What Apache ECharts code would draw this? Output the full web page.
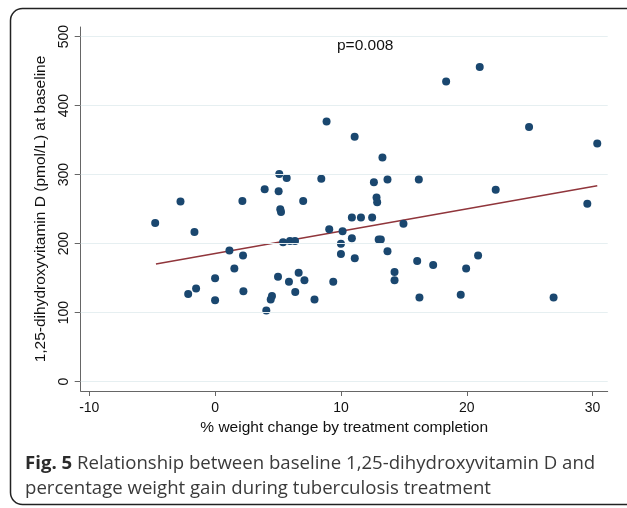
<!DOCTYPE html>
<html>
<head>
<meta charset="utf-8">
<script src="https://cdn.jsdelivr.net/npm/echarts@6/dist/echarts.min.js"></script>
<style>
  html, body { margin: 0; padding: 0; background: #fff; }
  #chart { width: 627px; height: 508px; }
</style>
</head>
<body>
<div id="chart"></div>
<script>
// % weight change by treatment completion
const weightChange = [
  -4.76, -2.75, -2.14, -1.64, -1.51, 0, 0, 1.14, 1.53, 2.17,
  2.22, 2.25, 3.94, 4.07, 4.42, 4.52, 5.0, 5.05, 5.1, 5.18,
  5.24, 5.4, 5.69, 5.87, 5.95, 6.35, 6.37, 6.64, 7.0, 7.1,
  7.9, 8.44, 8.86, 9.07, 9.39, 10.0, 10.0, 10.13, 10.87, 10.87,
  11.09, 11.1, 11.59, 12.48, 12.62, 12.83, 12.88, 13.0, 13.17, 13.3,
  13.7, 13.7, 14.26, 14.26, 14.97, 16.06, 16.19, 16.24, 17.33, 18.36,
  19.52, 19.95, 20.9, 21.03, 22.3, 24.95, 26.9, 29.58, 30.37
];
// baseline 1,25-dihydroxyvitamin D (pmol/L)
const vitaminD = [
  230, 261, 127, 217, 135, 150, 118, 190, 164, 262,
  183, 131, 279, 103, 119, 124, 152, 276, 301, 250,
  246, 202, 295, 145, 204, 204, 130, 158, 262, 147,
  119, 294, 377, 221, 145, 200, 185, 218, 238, 208,
  355, 179, 238, 238, 289, 267, 260, 206, 206, 325,
  293, 189, 159, 147, 229, 175, 293, 122, 169, 435,
  126, 164, 183, 456, 278, 369, 122, 258, 345
];
// fitted line end points
const fitX = [-4.7, 30.37];
const fitY = [170.6, 284];

const xTicks = [-10, 0, 10, 20, 30];
const yTicks = [0, 100, 200, 300, 400, 500];

const chart = echarts.init(document.getElementById('chart'));

const points = weightChange.map((x, i) => [x, vitaminD[i]]);
const fitLine = fitX.map((x, i) => [x, fitY[i]]);

const axisGrey = '#666';

chart.setOption({
  animation: false,
  backgroundColor: '#fff',
  textStyle: { fontFamily: 'Liberation Sans, Arial, sans-serif' },
  grid: { left: 80.7, right: 19.3, top: 27, bottom: 117 },
  xAxis: {
    type: 'value',
    min: -10.68,
    max: 31.2,
    name: '% weight change by treatment completion',
    nameLocation: 'middle',
    nameGap: 29,
    nameTextStyle: { fontSize: 15.5, color: '#111' },
    axisLine: { onZero: false, lineStyle: { color: axisGrey, width: 1 } },
    axisTick: { customValues: xTicks, length: 5, lineStyle: { color: axisGrey } },
    axisLabel: { customValues: xTicks, fontSize: 14, color: '#111', margin: 10 },
    splitLine: { show: false }
  },
  yAxis: {
    type: 'value',
    min: -13.5,
    max: 514,
    name: '1,25-dihydroxyvitamin D (pmol/L) at baseline',
    nameLocation: 'middle',
    nameGap: 31,
    nameTextStyle: { fontSize: 15.5, color: '#111' },
    axisLine: { show: true, onZero: false, lineStyle: { color: axisGrey, width: 1 } },
    axisTick: { show: true, customValues: yTicks, length: 6, lineStyle: { color: axisGrey } },
    axisLabel: { customValues: yTicks, fontSize: 14, color: '#111', rotate: 90, margin: 10 },
    splitLine: { show: false }
  },
  series: [
    {
      // horizontal gridlines
      type: 'line',
      data: [],
      z: 1,
      markLine: {
        silent: true,
        symbol: 'none',
        label: { show: false },
        lineStyle: { color: '#e6eff1', type: 'solid', width: 1.2 },
        data: yTicks.map(v => ({ yAxis: v }))
      }
    },
    {
      name: 'fit',
      type: 'line',
      data: fitLine,
      symbol: 'none',
      z: 2,
      lineStyle: { color: '#90353b', width: 1.5 }
    },
    {
      name: 'obs',
      type: 'scatter',
      data: points,
      symbolSize: 8,
      z: 3,
      itemStyle: { color: '#1a476f', opacity: 1 }
    }
  ],
  graphic: [
    {
      type: 'rect',
      shape: { x: 10.5, y: 8.5, width: 700, height: 496, r: 12 },
      style: { fill: 'none', stroke: '#222', lineWidth: 1.5 },
      silent: true
    },
    {
      type: 'text',
      left: 337,
      top: 38,
      style: { text: 'p=0.008', fontSize: 15.5, fill: '#111', fontFamily: 'Liberation Sans, Arial, sans-serif' }
    },
    {
      type: 'text',
      left: 25,
      top: 451,
      style: {
        text: '{b|Fig. 5} Relationship between baseline 1,25-dihydroxyvitamin D and\npercentage weight gain during tuberculosis treatment',
        fontSize: 18.6,
        lineHeight: 25,
        fill: '#3a3a3a',
        fontFamily: 'Open Sans, Noto Sans, sans-serif',
        rich: {
          b: { fontWeight: 'bold', fontSize: 18.6, fill: '#2b2b2b', fontFamily: 'Open Sans, Noto Sans, sans-serif' }
        }
      }
    }
  ]
});
</script>
</body>
</html>
